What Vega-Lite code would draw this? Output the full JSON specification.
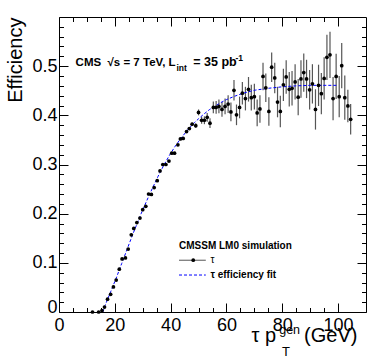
{
 "$schema": "https://vega.github.io/schema/vega-lite/v6.json",
 "width": 307, "height": 295,
 "autosize": "none",
 "padding": {"left": 59, "top": 17, "right": 8, "bottom": 47},
 "background": "white",
 "config": {
  "view": {"stroke": "black", "strokeWidth": 1},
  "font": "Liberation Sans",
  "axis": {"domain": false, "grid": false, "tickColor": "black", "tickWidth": 1, "labelColor": "black", "labelFont": "Liberation Sans", "labelFontSize": 18, "titleColor": "black", "titleFont": "Liberation Sans"}
 },
 "datasets": {
  "pts": [
   {"x":12.0,"y":0.000,"e":0.002},{"x":14.2,"y":0.000,"e":0.002},{"x":15.4,"y":0.003,"e":0.002},{"x":16.3,"y":0.010,"e":0.002},
   {"x":17.4,"y":0.026,"e":0.002},{"x":18.5,"y":0.036,"e":0.002},{"x":19.5,"y":0.051,"e":0.002},{"x":20.5,"y":0.065,"e":0.002},
   {"x":21.6,"y":0.087,"e":0.002},{"x":22.6,"y":0.108,"e":0.002},{"x":23.8,"y":0.110,"e":0.002},{"x":24.8,"y":0.128,"e":0.002},
   {"x":25.9,"y":0.157,"e":0.002},{"x":26.8,"y":0.170,"e":0.002},{"x":27.9,"y":0.182,"e":0.002},{"x":29.0,"y":0.191,"e":0.002},
   {"x":30.0,"y":0.208,"e":0.002},{"x":31.1,"y":0.215,"e":0.002},{"x":32.1,"y":0.240,"e":0.002},{"x":33.1,"y":0.239,"e":0.002},
   {"x":34.1,"y":0.253,"e":0.002},{"x":35.2,"y":0.267,"e":0.002},{"x":36.2,"y":0.287,"e":0.002},{"x":37.2,"y":0.300,"e":0.002},
   {"x":38.3,"y":0.300,"e":0.002},{"x":39.4,"y":0.307,"e":0.002},{"x":40.4,"y":0.323,"e":0.002},{"x":41.4,"y":0.323,"e":0.002},
   {"x":42.6,"y":0.340,"e":0.002},{"x":43.5,"y":0.352,"e":0.002},{"x":44.5,"y":0.353,"e":0.002},{"x":45.7,"y":0.367,"e":0.002},
   {"x":46.7,"y":0.373,"e":0.002},{"x":47.7,"y":0.382,"e":0.003},{"x":49.0,"y":0.379,"e":0.005},{"x":50.0,"y":0.406,"e":0.006},
   {"x":51.1,"y":0.390,"e":0.007},{"x":52.1,"y":0.390,"e":0.008},{"x":53.1,"y":0.396,"e":0.009},{"x":54.1,"y":0.384,"e":0.010},
   {"x":55.3,"y":0.416,"e":0.012},{"x":56.3,"y":0.416,"e":0.013},{"x":57.3,"y":0.418,"e":0.014},{"x":58.4,"y":0.412,"e":0.015},
   {"x":59.5,"y":0.418,"e":0.016},{"x":60.6,"y":0.423,"e":0.018},{"x":61.6,"y":0.407,"e":0.019},{"x":62.7,"y":0.451,"e":0.021},
   {"x":63.6,"y":0.401,"e":0.021},{"x":64.7,"y":0.416,"e":0.022},{"x":65.7,"y":0.445,"e":0.023},{"x":66.8,"y":0.434,"e":0.024},
   {"x":67.9,"y":0.453,"e":0.025},{"x":68.9,"y":0.436,"e":0.026},{"x":70.0,"y":0.438,"e":0.026},{"x":71.0,"y":0.405,"e":0.027},
   {"x":72.0,"y":0.413,"e":0.028},{"x":73.1,"y":0.479,"e":0.028},{"x":74.1,"y":0.456,"e":0.029},{"x":75.2,"y":0.408,"e":0.029},
   {"x":76.2,"y":0.498,"e":0.030},{"x":77.3,"y":0.476,"e":0.031},{"x":78.3,"y":0.427,"e":0.031},{"x":79.3,"y":0.408,"e":0.032},
   {"x":80.4,"y":0.462,"e":0.033},{"x":81.4,"y":0.478,"e":0.034},{"x":82.5,"y":0.453,"e":0.035},{"x":83.5,"y":0.455,"e":0.035},
   {"x":84.6,"y":0.468,"e":0.036},{"x":85.7,"y":0.437,"e":0.037},{"x":86.7,"y":0.474,"e":0.038},{"x":87.7,"y":0.487,"e":0.039},
   {"x":88.7,"y":0.474,"e":0.039},{"x":89.8,"y":0.452,"e":0.040},{"x":90.8,"y":0.464,"e":0.040},{"x":91.9,"y":0.412,"e":0.041},
   {"x":93.0,"y":0.461,"e":0.042},{"x":94.0,"y":0.444,"e":0.042},{"x":95.0,"y":0.475,"e":0.043},{"x":96.0,"y":0.518,"e":0.046},
   {"x":97.1,"y":0.523,"e":0.047},{"x":98.2,"y":0.434,"e":0.044},{"x":99.3,"y":0.479,"e":0.046},{"x":100.4,"y":0.438,"e":0.042},
   {"x":101.3,"y":0.501,"e":0.046},{"x":102.4,"y":0.436,"e":0.045},{"x":103.5,"y":0.419,"e":0.033},{"x":104.5,"y":0.392,"e":0.031}
  ],
  "fit": [
   {"x":15.7,"y":0.0},{"x":16.5,"y":0.013},{"x":17.5,"y":0.027},{"x":18.5,"y":0.041},{"x":19.5,"y":0.055},{"x":20.5,"y":0.069},
   {"x":21.5,"y":0.084},{"x":22.5,"y":0.099},{"x":23.5,"y":0.114},{"x":24.5,"y":0.129},{"x":25.5,"y":0.144},{"x":26.5,"y":0.159},
   {"x":27.5,"y":0.173},{"x":28.5,"y":0.187},{"x":29.5,"y":0.201},{"x":30.5,"y":0.214},{"x":31.5,"y":0.227},{"x":32.5,"y":0.240},
   {"x":33.5,"y":0.252},{"x":34.5,"y":0.264},{"x":35.5,"y":0.276},{"x":36.5,"y":0.287},{"x":37.5,"y":0.298},{"x":38.5,"y":0.308},
   {"x":39.5,"y":0.318},{"x":40.5,"y":0.327},{"x":41.5,"y":0.336},{"x":42.5,"y":0.344},{"x":43.5,"y":0.352},{"x":44.5,"y":0.359},
   {"x":45.5,"y":0.366},{"x":46.5,"y":0.373},{"x":47.5,"y":0.379},{"x":48.5,"y":0.385},{"x":50,"y":0.393},{"x":52,"y":0.403},
   {"x":54,"y":0.412},{"x":56,"y":0.419},{"x":58,"y":0.426},{"x":60,"y":0.432},{"x":63,"y":0.439},{"x":66,"y":0.445},
   {"x":70,"y":0.451},{"x":75,"y":0.455},{"x":80,"y":0.458},{"x":85,"y":0.46},{"x":90,"y":0.461},{"x":95,"y":0.461},{"x":99.5,"y":0.461}
  ]
 },
 "layer": [
  {
   "data": {"name": "pts"},
   "mark": {"type": "errorbar", "color": "#555555", "thickness": 1.2},
   "encoding": {
    "x": {"field": "x", "type": "quantitative", "scale": {"domain": [0, 105]}, "axis": null},
    "y": {"field": "y", "type": "quantitative", "scale": {"domain": [0, 0.6]}, "axis": null},
    "yError": {"field": "e"}
   }
  },
  {
   "data": {"name": "fit"},
   "mark": {"type": "line", "color": "#0000ff", "strokeWidth": 1, "strokeDash": [3, 2]},
   "encoding": {
    "x": {"field": "x", "type": "quantitative", "scale": {"domain": [0, 105]},
     "axis": {"orient": "top", "values": [0,5,10,15,20,25,30,35,40,45,50,55,60,65,70,75,80,85,90,95,100], "labels": false, "title": null,
      "tickSize": {"condition": {"test": "datum.value % 20 === 0", "value": -9}, "value": -4.5}}},
    "y": {"field": "y", "type": "quantitative", "scale": {"domain": [0, 0.6]},
     "axis": {"orient": "right", "values": [0,0.02,0.04,0.06,0.08,0.1,0.12,0.14,0.16,0.18,0.2,0.22,0.24,0.26,0.28,0.3,0.32,0.34,0.36,0.38,0.4,0.42,0.44,0.46,0.48,0.5,0.52,0.54,0.56,0.58], "labels": false, "title": null,
      "tickSize": {"condition": {"test": "abs(datum.value*10 - round(datum.value*10)) < 0.001", "value": -9}, "value": -4.5}}}
   }
  },
  {
   "data": {"name": "pts"},
   "mark": {"type": "point", "filled": true, "color": "black", "size": 14, "opacity": 1},
   "encoding": {
    "x": {"field": "x", "type": "quantitative", "scale": {"domain": [0, 105]},
     "axis": {"orient": "bottom", "values": [0,5,10,15,20,25,30,35,40,45,50,55,60,65,70,75,80,85,90,95,100], "title": null, "labelPadding": 13, "labelFlush": false, "labelOverlap": false,
      "labelExpr": "datum.value % 20 === 0 ? datum.label : ''",
      "tickSize": {"condition": {"test": "datum.value % 20 === 0", "value": -9}, "value": -4.5}}},
    "y": {"field": "y", "type": "quantitative", "scale": {"domain": [0, 0.6]},
     "axis": {"orient": "left", "values": [0,0.02,0.04,0.06,0.08,0.1,0.12,0.14,0.16,0.18,0.2,0.22,0.24,0.26,0.28,0.3,0.32,0.34,0.36,0.38,0.4,0.42,0.44,0.46,0.48,0.5,0.52,0.54,0.56,0.58], "labelPadding": 11, "labelFlush": false, "labelOverlap": false,
      "labelExpr": "abs(datum.value*10 - round(datum.value*10)) < 0.001 ? (datum.value == 0 ? '0' : format(datum.value, '.1f')) : ''",
      "labelOffset": {"condition": {"test": "datum.value == 0", "value": -5}, "value": 0},
      "tickSize": {"condition": {"test": "abs(datum.value*10 - round(datum.value*10)) < 0.001", "value": -9}, "value": -4.5},
      "title": "Efficiency", "titleFontSize": 20, "titleFontWeight": "normal", "titleAngle": 270, "titleX": -38, "titleY": 0, "titleAlign": "right", "titleBaseline": "alphabetic"}}
   }
  },
  {
   "data": {"values": [{}]},
   "mark": {"type": "text", "text": "CMS\u00a0 √s = 7 TeV, L", "align": "left", "baseline": "alphabetic", "fontSize": 11.5, "fontWeight": "bold", "color": "black"},
   "encoding": {"x": {"datum": 5.95, "type": "quantitative", "axis": null}, "y": {"datum": 0.501, "type": "quantitative", "axis": null}}
  },
  {
   "data": {"values": [{}]},
   "mark": {"type": "text", "text": "int", "align": "left", "baseline": "alphabetic", "fontSize": 8.5, "fontWeight": "bold", "color": "black"},
   "encoding": {"x": {"datum": 42.07, "type": "quantitative", "axis": null}, "y": {"datum": 0.4895, "type": "quantitative", "axis": null}}
  },
  {
   "data": {"values": [{}]},
   "mark": {"type": "text", "text": "= 35 pb", "align": "left", "baseline": "alphabetic", "fontSize": 12.5, "fontWeight": "bold", "color": "black"},
   "encoding": {"x": {"datum": 48.12, "type": "quantitative", "axis": null}, "y": {"datum": 0.501, "type": "quantitative", "axis": null}}
  },
  {
   "data": {"values": [{}]},
   "mark": {"type": "text", "text": "-1", "align": "left", "baseline": "alphabetic", "fontSize": 8.5, "fontWeight": "bold", "color": "black"},
   "encoding": {"x": {"datum": 63.2, "type": "quantitative", "axis": null}, "y": {"datum": 0.5105, "type": "quantitative", "axis": null}}
  },
  {
   "data": {"values": [{}]},
   "mark": {"type": "text", "text": "CMSSM LM0 simulation", "align": "left", "baseline": "alphabetic", "fontSize": 10, "fontWeight": "bold", "color": "black"},
   "encoding": {"x": {"datum": 43.0, "type": "quantitative", "axis": null}, "y": {"datum": 0.1281, "type": "quantitative", "axis": null}}
  },
  {
   "data": {"values": [{}]},
   "mark": {"type": "rule", "color": "#555555", "strokeWidth": 1},
   "encoding": {"x": {"datum": 43.0, "type": "quantitative", "axis": null}, "x2": {"datum": 52.6}, "y": {"datum": 0.1053, "type": "quantitative", "axis": null}}
  },
  {
   "data": {"values": [{}]},
   "mark": {"type": "point", "filled": true, "color": "black", "size": 14, "opacity": 1},
   "encoding": {"x": {"datum": 48.1, "type": "quantitative", "axis": null}, "y": {"datum": 0.1053, "type": "quantitative", "axis": null}}
  },
  {
   "data": {"values": [{}]},
   "mark": {"type": "text", "text": "τ", "align": "left", "baseline": "alphabetic", "fontSize": 10, "color": "black"},
   "encoding": {"x": {"datum": 54.28, "type": "quantitative", "axis": null}, "y": {"datum": 0.0997, "type": "quantitative", "axis": null}}
  },
  {
   "data": {"values": [{}]},
   "mark": {"type": "rule", "color": "#0000ff", "strokeWidth": 1, "strokeDash": [3, 2]},
   "encoding": {"x": {"datum": 43.0, "type": "quantitative", "axis": null}, "x2": {"datum": 52.6}, "y": {"datum": 0.0752, "type": "quantitative", "axis": null}}
  },
  {
   "data": {"values": [{}]},
   "mark": {"type": "text", "text": "τ efficiency fit", "align": "left", "baseline": "alphabetic", "fontSize": 10, "fontWeight": "bold", "color": "black"},
   "encoding": {"x": {"datum": 54.28, "type": "quantitative", "axis": null}, "y": {"datum": 0.0685, "type": "quantitative", "axis": null}}
  },
  {
   "data": {"values": [{}]},
   "mark": {"type": "text", "text": "τ p", "align": "left", "baseline": "alphabetic", "fontSize": 20, "color": "black"},
   "encoding": {"x": {"datum": 68.97, "type": "quantitative", "axis": null}, "y": {"datum": -0.0604, "type": "quantitative", "axis": null}}
  },
  {
   "data": {"values": [{}]},
   "mark": {"type": "text", "text": "gen", "align": "left", "baseline": "alphabetic", "fontSize": 12.5, "color": "black"},
   "encoding": {"x": {"datum": 78.9, "type": "quantitative", "axis": null}, "y": {"datum": -0.0447, "type": "quantitative", "axis": null}}
  },
  {
   "data": {"values": [{}]},
   "mark": {"type": "text", "text": "T", "align": "left", "baseline": "alphabetic", "fontSize": 13, "color": "black"},
   "encoding": {"x": {"datum": 79.9, "type": "quantitative", "axis": null}, "y": {"datum": -0.0895, "type": "quantitative", "axis": null}}
  },
  {
   "data": {"values": [{}]},
   "mark": {"type": "text", "text": "(GeV)", "align": "left", "baseline": "alphabetic", "fontSize": 20, "color": "black"},
   "encoding": {"x": {"datum": 87.8, "type": "quantitative", "axis": null}, "y": {"datum": -0.0604, "type": "quantitative", "axis": null}}
  }
 ],
 "resolve": {"axis": {"x": "independent", "y": "independent"}}
}
